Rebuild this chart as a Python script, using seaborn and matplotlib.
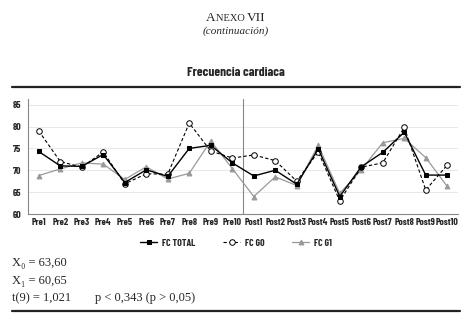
import matplotlib
matplotlib.use("Agg")
import matplotlib.pyplot as plt
import seaborn as sns
import pandas as pd
import numpy as np

categories = [f"Pre{i}" for i in range(1, 11)] + [f"Post{i}" for i in range(1, 11)]
fc_total = [74.3, 71.0, 70.9, 73.6, 67.2, 70.1, 68.6, 75.0, 75.7, 71.7,
            68.7, 70.0, 66.8, 74.9, 64.0, 70.8, 74.1, 78.7, 68.9, 68.9]
fc_g0 = [79.0, 72.0, 70.7, 74.2, 66.9, 69.2, 69.1, 80.8, 74.4, 72.8,
         73.5, 72.2, 67.5, 74.2, 63.0, 70.7, 71.7, 79.8, 65.5, 71.2]
fc_g1 = [68.8, 70.3, 71.7, 71.4, 67.9, 70.8, 68.0, 69.3, 76.7, 70.4,
         64.0, 68.5, 66.5, 75.7, 64.7, 70.1, 76.3, 77.3, 72.9, 66.3]
series_names = ["FC TOTAL", "FC G0", "FC G1"]
yticks = [60, 65, 70, 75, 80, 85]

sns.set_style("white")
narrow = ["Barlow Condensed", "Archivo Narrow", "Liberation Sans Narrow", "DejaVu Sans"]
plt.rcParams["font.family"] = narrow

fig = plt.figure(figsize=(4.72, 3.26), dpi=100)
W, H = 472, 326
ax = fig.add_axes([28 / W, 1 - 214 / H, (458 - 28) / W, (214 - 99) / H])

df = pd.DataFrame({"cat": categories, "x": np.arange(len(categories)),
                   "FC TOTAL": fc_total, "FC G0": fc_g0, "FC G1": fc_g1})

styles = {
    "FC TOTAL": dict(color="black", marker="s", linestyle="-", markerfacecolor="black",
                     markeredgecolor="black", markersize=3.5, linewidth=1.0),
    "FC G0": dict(color="black", marker="o", linestyle=(0, (3, 2)), markerfacecolor="white",
                  markeredgecolor="black", markersize=4, linewidth=0.8, markeredgewidth=0.7),
    "FC G1": dict(color="#999999", marker="^", linestyle="-", markerfacecolor="#999999",
                  markeredgecolor="#999999", markersize=3.5, linewidth=0.9),
}
for name in ["FC G1", "FC G0", "FC TOTAL"]:
    sns.lineplot(data=df, x="x", y=name, ax=ax, sort=False, label=name, **styles[name])

tick_font = dict(size=7, weight="bold", family=narrow)
ax.set_xlim(-0.5, len(categories) - 0.5)
ax.set_ylim(60, 86.3)
ax.set_yticks(yticks)
ax.set_xticks(np.arange(len(categories)))
ax.set_xticklabels(categories, fontdict=tick_font)
ax.set_yticklabels([str(v) for v in yticks], fontdict=tick_font)
ax.set_xlabel("")
ax.set_ylabel("")
for v in yticks[1:]:
    ax.axhline(v, color="#e8e8e8", linewidth=0.7, zorder=0)
ax.axvline(9.5, color="#888888", linewidth=0.8, zorder=0)
ax.set_xticks(np.arange(-0.5, len(categories), 1.0), minor=True)
ax.tick_params(axis="x", which="major", length=0, pad=3)
ax.tick_params(axis="x", which="minor", length=3, color="#888888", direction="out")
ax.tick_params(axis="y", length=3, color="#888888", direction="out", pad=2)
for s in ["top", "right"]:
    ax.spines[s].set_visible(False)
for s in ["left", "bottom"]:
    ax.spines[s].set_color("#888888")
    ax.spines[s].set_linewidth(0.8)

handles, labels = ax.get_legend_handles_labels()
order = [labels.index(n) for n in series_names]
fig.legend([handles[i] for i in order], series_names, loc="center",
           bbox_to_anchor=(236 / W, 1 - 243 / H), ncol=3, frameon=False,
           prop=dict(size=7, weight="bold", family=narrow),
           handlelength=1.8, columnspacing=2.8, handletextpad=0.5)
if ax.get_legend():
    ax.get_legend().remove()

serif = ["Liberation Serif", "DejaVu Serif"]

# Small-caps title "ANEXO VII"
fig.canvas.draw()
r = fig.canvas.get_renderer()
parts = [("A", 9.5), ("NEXO ", 7.5), ("VII", 9.5)]
tmp = [fig.text(0, 0, s, fontsize=fs, family=serif) for s, fs in parts]
widths = [t.get_window_extent(r).width for t in tmp]
for t in tmp:
    t.remove()
x0 = 236 - sum(widths) / 2
for (s, fs), w in zip(parts, widths):
    fig.text(x0 / W, 1 - 21 / H, s, ha="left", va="baseline", fontsize=fs, family=serif)
    x0 += w

fig.text(236 / W, 1 - 31 / H, "(continuación)", ha="center", va="center", fontsize=8,
         family=serif, style="italic")
fig.text(236 / W, 1 - 73 / H, "Frecuencia cardiaca", ha="center", va="center", fontsize=9.5,
         fontweight="bold", family=narrow)

fig.add_artist(plt.Line2D([12 / W, 460 / W], [1 - 87 / H, 1 - 87 / H], color="#222222", linewidth=1.6))
fig.add_artist(plt.Line2D([12 / W, 460 / W], [1 - 311 / H, 1 - 311 / H], color="#222222", linewidth=1.6))

fig.text(12 / W, 1 - 263 / H, "X\u2080 = 63,60", ha="left", va="center", fontsize=9, family=serif)
fig.text(12 / W, 1 - 281 / H, "X\u2081 = 60,65", ha="left", va="center", fontsize=9, family=serif)
fig.text(12 / W, 1 - 298 / H, "t(9) = 1,021", ha="left", va="center", fontsize=9, family=serif)
fig.text(95 / W, 1 - 298 / H, "p < 0,343 (p > 0,05)", ha="left", va="center", fontsize=9, family=serif)

fig.savefig("out.png", dpi=100, facecolor="white")
